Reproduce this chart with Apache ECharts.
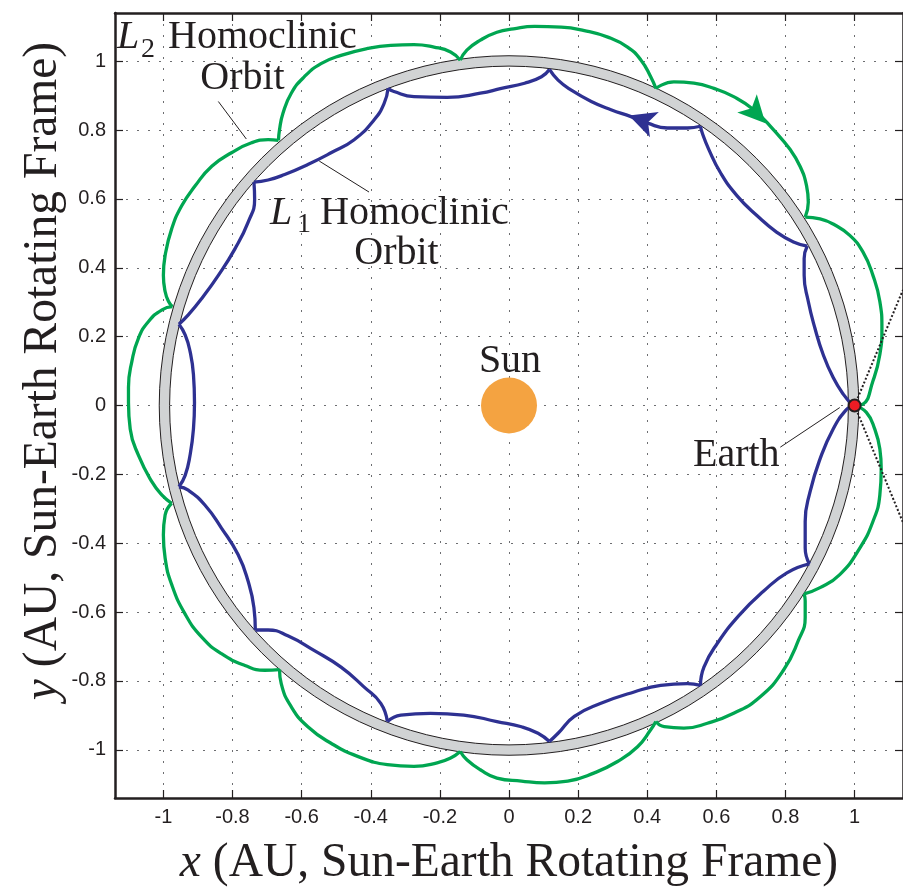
<!DOCTYPE html>
<html><head><meta charset="utf-8">
<script src="https://cdn.jsdelivr.net/npm/echarts@6/dist/echarts.min.js"></script>
<style>html,body{margin:0;padding:0;background:#fff}#c{width:903px;height:893px}</style>
</head><body><div id="c"></div>
<script>
// ---- tick values ----
const xTicks = [-1, -0.8, -0.6, -0.4, -0.2, 0, 0.2, 0.4, 0.6, 0.8, 1];
const yTicks = [-1, -0.8, -0.6, -0.4, -0.2, 0, 0.2, 0.4, 0.6, 0.8, 1];

// ---- L2 homoclinic orbit (green), one array per lobe between cusps ----
const greenLobes = [
  [[1.0,0],[1.024,0.004],[1.053,0.071],[1.073,0.148],[1.079,0.225],[1.073,0.302],[1.053,0.378],[1.024,0.446],[0.986,0.494],[0.938,0.527],[0.900,0.542],[0.857,0.547]],
  [[0.857,0.547],[0.866,0.590],[0.861,0.638],[0.842,0.695],[0.813,0.744],[0.765,0.801],[0.708,0.859],[0.650,0.897],[0.593,0.921],[0.535,0.936],[0.477,0.940],[0.425,0.921]],
  [[0.425,0.921],[0.410,0.955],[0.382,1.003],[0.343,1.041],[0.286,1.070],[0.218,1.089],[0.151,1.099],[0.074,1.101],[0.013,1.094],[-0.035,1.084],[-0.083,1.061],[-0.122,1.032],[-0.141,1.003]],
  [[-0.141,1.003],[-0.169,1.027],[-0.217,1.041],[-0.275,1.048],[-0.342,1.046],[-0.409,1.037],[-0.486,1.017],[-0.544,0.993],[-0.592,0.955],[-0.630,0.907],[-0.654,0.849],[-0.664,0.801],[-0.667,0.770]],
  [[-0.667,0.770],[-0.697,0.772],[-0.745,0.763],[-0.803,0.734],[-0.860,0.695],[-0.908,0.638],[-0.947,0.580],[-0.976,0.513],[-0.995,0.436],[-1.000,0.378],[-0.995,0.331],[-0.985,0.302],[-0.974,0.287]],
  [[-0.974,0.287],[-1.004,0.278],[-1.043,0.244],[-1.072,0.196],[-1.091,0.129],[-1.101,0.052],[-1.101,0.009],[-1.096,-0.068],[-1.072,-0.145],[-1.033,-0.222],[-1.004,-0.260],[-0.976,-0.284]],
  [[-0.976,-0.284],[-0.995,-0.318],[-1.000,-0.376],[-0.995,-0.443],[-0.976,-0.520],[-0.937,-0.606],[-0.889,-0.673],[-0.832,-0.721],[-0.764,-0.755],[-0.707,-0.769],[-0.664,-0.767]],
  [[-0.664,-0.767],[-0.659,-0.808],[-0.630,-0.875],[-0.582,-0.933],[-0.515,-0.981],[-0.438,-1.019],[-0.352,-1.043],[-0.275,-1.048],[-0.208,-1.038],[-0.169,-1.024],[-0.141,-1.005]],
  [[-0.141,-1.005],[-0.122,-1.029],[-0.083,-1.058],[-0.035,-1.082],[0.036,-1.091],[0.103,-1.096],[0.170,-1.091],[0.247,-1.067],[0.314,-1.034],[0.372,-0.991],[0.410,-0.942],[0.425,-0.918]],
  [[0.425,-0.918],[0.449,-0.933],[0.506,-0.937],[0.574,-0.923],[0.650,-0.894],[0.727,-0.846],[0.794,-0.769],[0.837,-0.683],[0.857,-0.616],[0.857,-0.568],[0.854,-0.547]],
  [[0.854,-0.547],[0.900,-0.529],[0.957,-0.491],[1.015,-0.414],[1.053,-0.337],[1.073,-0.260],[1.077,-0.184],[1.073,-0.126],[1.058,-0.068],[1.034,-0.020],[1.0,0]]
];

// ---- L1 homoclinic orbit (blue), one array per lobe between cusps ----
const blueLobes = [
  [[0.995,0],[0.967,0.033],[0.938,0.081],[0.909,0.148],[0.885,0.225],[0.866,0.302],[0.854,0.378],[0.854,0.427],[0.863,0.463]],
  [[0.863,0.463],[0.823,0.475],[0.775,0.503],[0.718,0.551],[0.660,0.609],[0.612,0.676],[0.578,0.744],[0.559,0.792],[0.554,0.811]],
  [[0.554,0.811],[0.516,0.806],[0.458,0.806],[0.401,0.820],[0.353,0.839],[0.295,0.859],[0.238,0.883],[0.180,0.916],[0.142,0.945],[0.117,0.976]],
  [[0.117,0.976],[0.094,0.955],[0.045,0.936],[-0.022,0.921],[-0.083,0.907],[-0.179,0.895],[-0.275,0.897],[-0.333,0.912],[-0.350,0.921]],
  [[-0.350,0.921],[-0.361,0.878],[-0.390,0.830],[-0.448,0.772],[-0.515,0.734],[-0.582,0.700],[-0.649,0.671],[-0.697,0.655],[-0.738,0.649]],
  [[-0.738,0.649],[-0.736,0.599],[-0.755,0.532],[-0.793,0.455],[-0.841,0.378],[-0.889,0.311],[-0.928,0.263],[-0.955,0.236]],
  [[-0.955,0.236],[-0.937,0.205],[-0.923,0.158],[-0.913,0.090],[-0.910,0.009],[-0.913,-0.068],[-0.923,-0.145],[-0.937,-0.203],[-0.955,-0.236]],
  [[-0.955,-0.236],[-0.928,-0.246],[-0.880,-0.289],[-0.832,-0.356],[-0.784,-0.433],[-0.755,-0.510],[-0.738,-0.587],[-0.734,-0.652]],
  [[-0.734,-0.652],[-0.697,-0.652],[-0.640,-0.669],[-0.563,-0.712],[-0.486,-0.760],[-0.419,-0.818],[-0.371,-0.865],[-0.352,-0.918]],
  [[-0.352,-0.918],[-0.313,-0.899],[-0.227,-0.894],[-0.131,-0.899],[-0.035,-0.918],[0.036,-0.933],[0.084,-0.952],[0.117,-0.976]],
  [[0.117,-0.976],[0.142,-0.952],[0.189,-0.903],[0.266,-0.865],[0.362,-0.832],[0.439,-0.813],[0.516,-0.808],[0.554,-0.813]],
  [[0.554,-0.813],[0.564,-0.760],[0.602,-0.692],[0.669,-0.606],[0.737,-0.539],[0.804,-0.486],[0.869,-0.460]],
  [[0.869,-0.460],[0.857,-0.414],[0.857,-0.337],[0.871,-0.251],[0.900,-0.155],[0.938,-0.068],[0.977,-0.011],[0.995,0]]
];

// ---- other elements ----
const band = [[0, 0, 0.982, 1.012]];           // centre x, centre y, inner r, outer r (AU)
const sunPos = [[0, 0]];
const earthPos = [[1, 0]];
const greenArrow = [[0.742, 0.820, -137]];     // x, y, rotation (deg)
const blueArrow = [[0.347, 0.842, 70.6]];
const earthDottedLines = [[[1, 0], [1.14, 0.336]], [[1, 0], [1.14, -0.34]]];
const leaderLines = [
  [[-0.841, 0.883], [-0.760, 0.774]],
  [[-0.549, 0.710], [-0.405, 0.620]],
  [[0.785, -0.121], [0.957, -0.006]]
];

const TXT = '#231f20';
const GREEN = '#00a651';
const BLUE = '#2e3192';
const SERIF = '"Liberation Serif", "Times New Roman", serif';
const SANS = '"Liberation Sans", Arial, sans-serif';

function axisCommon(pos, ticks, showLabel) {
  return {
    type: 'value', position: pos, min: -1.14, max: 1.14,
    axisLine: { show: true, onZero: false, lineStyle: { color: TXT, width: 2.5 } },
    axisTick: { show: true, inside: true, length: 8, customValues: ticks, lineStyle: { color: TXT, width: 1.2 } },
    axisLabel: { show: showLabel, customValues: ticks, fontFamily: SANS, fontSize: 20, color: TXT, margin: 9 },
    splitLine: { show: showLabel, lineStyle: { color: '#6d6e71', width: 1, type: [2, 9] } }
  };
}

const series = [];
series.push({
  type: 'custom', data: band, z: 1, silent: true,
  renderItem: (params, api) => {
    const c = api.coord([api.value(0), api.value(1)]);
    const r0 = api.size([api.value(2), 0])[0];
    const r = api.size([api.value(3), 0])[0];
    return { type: 'ring', shape: { cx: c[0], cy: c[1], r: r, r0: r0 },
      style: { fill: '#d1d3d4', stroke: TXT, lineWidth: 1 } };
  }
});
greenLobes.forEach(l => series.push({ type: 'line', data: l, symbol: 'none', smooth: 0.5, z: 3,
  lineStyle: { color: GREEN, width: 3.3 }, silent: true }));
blueLobes.forEach(l => series.push({ type: 'line', data: l, symbol: 'none', smooth: 0.5, z: 3,
  lineStyle: { color: BLUE, width: 3.3 }, silent: true }));
earthDottedLines.forEach(l => series.push({ type: 'line', data: l, symbol: 'none', z: 4,
  lineStyle: { color: TXT, width: 2, type: [2, 2] }, silent: true }));
leaderLines.forEach(l => series.push({ type: 'line', data: l, symbol: 'none', z: 4,
  lineStyle: { color: TXT, width: 1 }, silent: true }));
series.push({ type: 'scatter', data: sunPos, symbol: 'circle', symbolSize: 56, z: 2,
  itemStyle: { color: '#f4a341', opacity: 1 }, silent: true });
series.push({ type: 'scatter', data: greenArrow.map(d => ({ value: [d[0], d[1]], symbolRotate: d[2] })),
  symbol: 'arrow', symbolSize: [20, 27], z: 5, itemStyle: { color: GREEN, opacity: 1 }, silent: true });
series.push({ type: 'scatter', data: blueArrow.map(d => ({ value: [d[0], d[1]], symbolRotate: d[2] })),
  symbol: 'arrow', symbolSize: [20, 27], z: 5, itemStyle: { color: BLUE, opacity: 1 }, silent: true });
series.push({ type: 'scatter', data: earthPos, symbol: 'circle', symbolSize: 12, z: 6,
  itemStyle: { color: '#ed1c24', borderColor: TXT, borderWidth: 2, opacity: 1 }, silent: true });

function txt(text, x, y, size, opts) {
  return { type: 'text', x: x, y: y, z: 100, silent: true,
    style: Object.assign({ text: text, fill: TXT, font: size + 'px ' + SERIF, align: 'left', verticalAlign: 'middle' }, (opts && opts.style) || {}) };
}

const chart = echarts.init(document.getElementById('c'), null, { renderer: 'canvas' });
chart.setOption({
  animation: false,
  backgroundColor: '#ffffff',
  grid: { left: 115, top: 13, width: 792, height: 790, containLabel: false },
  xAxis: [
    Object.assign(axisCommon('bottom', xTicks, true), {
      name: '{i|x} (AU, Sun-Earth Rotating Frame)', nameLocation: 'middle', nameGap: 42,
      nameTextStyle: { fontFamily: SERIF, fontSize: 47.5, color: TXT,
        rich: { i: { fontFamily: SERIF, fontSize: 47.5, fontStyle: 'italic', color: TXT } } }
    }),
    axisCommon('top', xTicks, false)
  ],
  yAxis: [
    axisCommon('left', yTicks, true),
    axisCommon('right', yTicks, false)
  ],
  series: series,
  graphic: [
    txt('L', 117, 37, 40, { style: { font: 'italic 40px ' + SERIF } }),
    txt('2', 141, 49.5, 28),
    txt('Homoclinic', 168, 37, 40),
    txt('Orbit', 242.5, 78, 40, { style: { align: 'center' } }),
    txt('L', 270, 213, 40, { style: { font: 'italic 40px ' + SERIF } }),
    txt('1', 297, 224.5, 28),
    txt('Homoclinic', 320, 213, 40),
    txt('Orbit', 396.5, 253, 40, { style: { align: 'center' } }),
    txt('Sun', 510, 361, 40, { style: { align: 'center' } }),
    txt('Earth', 693, 455, 40),
    { type: 'text', x: 44, y: 371, rotation: Math.PI / 2, z: 100, silent: true,
      style: { text: '{i|y} (AU, Sun-Earth Rotating Frame)', fill: TXT, font: '47.5px ' + SERIF,
        align: 'center', verticalAlign: 'middle',
        rich: { i: { font: 'italic 47.5px ' + SERIF, fill: TXT } } } }
  ]
});
</script>
</body></html>
